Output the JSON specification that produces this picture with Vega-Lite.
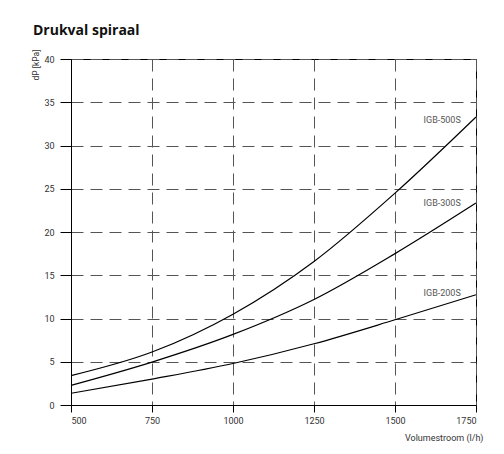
{
  "$schema": "https://vega.github.io/schema/vega-lite/v6.json",
  "width": 405,
  "height": 346,
  "autosize": {"type": "none"},
  "padding": {"left": 71, "top": 59, "right": 28, "bottom": 49},
  "background": "white",
  "title": {
    "text": "Drukval spiraal",
    "anchor": "start",
    "frame": "group",
    "dx": -38,
    "dy": 22,
    "offset": 22,
    "baseline": "alphabetic",
    "fontSize": 14,
    "fontWeight": "bold",
    "font": "Open Sans",
    "color": "#111111"
  },
  "config": {
    "view": {"stroke": "black", "strokeWidth": 1},
    "font": "Roboto",
    "axis": {
      "domainColor": "black",
      "domainWidth": 1,
      "tickColor": "black",
      "tickWidth": 1,
      "labelFont": "Roboto",
      "labelFontSize": 9,
      "labelColor": "#333333",
      "titleFont": "Roboto",
      "titleFontSize": 9,
      "titleFontWeight": "normal",
      "titleColor": "#333333",
      "grid": true,
      "gridColor": "#555555",
      "gridWidth": 1,
      "gridDash": [12, 7],
      "gridOpacity": 1
    }
  },
  "datasets": {
    "curves": [
      {"series": "IGB-500S", "flow": 500, "dp": 3.39},
      {"series": "IGB-500S", "flow": 750, "dp": 6.12},
      {"series": "IGB-500S", "flow": 1000, "dp": 10.5},
      {"series": "IGB-500S", "flow": 1250, "dp": 16.6},
      {"series": "IGB-500S", "flow": 1500, "dp": 24.5},
      {"series": "IGB-500S", "flow": 1750, "dp": 33.3},
      {"series": "IGB-300S", "flow": 500, "dp": 2.27},
      {"series": "IGB-300S", "flow": 750, "dp": 4.96},
      {"series": "IGB-300S", "flow": 1000, "dp": 8.16},
      {"series": "IGB-300S", "flow": 1250, "dp": 12.2},
      {"series": "IGB-300S", "flow": 1500, "dp": 17.5},
      {"series": "IGB-300S", "flow": 1750, "dp": 23.35},
      {"series": "IGB-200S", "flow": 500, "dp": 1.35},
      {"series": "IGB-200S", "flow": 750, "dp": 3.0},
      {"series": "IGB-200S", "flow": 1000, "dp": 4.8},
      {"series": "IGB-200S", "flow": 1250, "dp": 7.08},
      {"series": "IGB-200S", "flow": 1500, "dp": 9.85},
      {"series": "IGB-200S", "flow": 1750, "dp": 12.75}
    ],
    "labels": [
      {"series": "IGB-500S", "flow": 1703, "dp": 32.9},
      {"series": "IGB-300S", "flow": 1703, "dp": 23.4},
      {"series": "IGB-200S", "flow": 1703, "dp": 13.0}
    ]
  },
  "layer": [
    {
      "data": {"name": "curves"},
      "mark": {"type": "line", "interpolate": "monotone", "color": "black", "strokeWidth": 1.2},
      "encoding": {
        "x": {
          "field": "flow",
          "type": "quantitative",
          "scale": {"domain": [500, 1750], "nice": false, "zero": false},
          "axis": {
            "values": [500, 750, 1000, 1250, 1500, 1750],
            "format": "d",
            "tickSize": 7,
            "labelPadding": 4,
            "title": "Volumestroom (l/h)",
            "titleAnchor": "end",
            "titleAlign": "right",
            "titleX": 412,
            "titleY": 32,
            "titleBaseline": "middle"
          }
        },
        "y": {
          "field": "dp",
          "type": "quantitative",
          "scale": {"domain": [0, 40], "nice": false},
          "axis": {
            "values": [0, 5, 10, 15, 20, 25, 30, 35, 40],
            "format": "d",
            "tickSize": 11,
            "labelPadding": 6,
            "title": "dP [kPa]",
            "titleFontSize": 8.5,
            "titleAngle": 270,
            "titleAlign": "right",
            "titleBaseline": "middle",
            "titleX": -36,
            "titleY": -10
          }
        },
        "detail": {"field": "series", "type": "nominal"}
      }
    },
    {
      "data": {"name": "labels"},
      "mark": {"type": "text", "align": "right", "baseline": "middle", "fontSize": 9, "color": "#555555", "font": "Roboto"},
      "encoding": {
        "x": {"field": "flow", "type": "quantitative"},
        "y": {"field": "dp", "type": "quantitative"},
        "text": {"field": "series", "type": "nominal"}
      }
    }
  ]
}
